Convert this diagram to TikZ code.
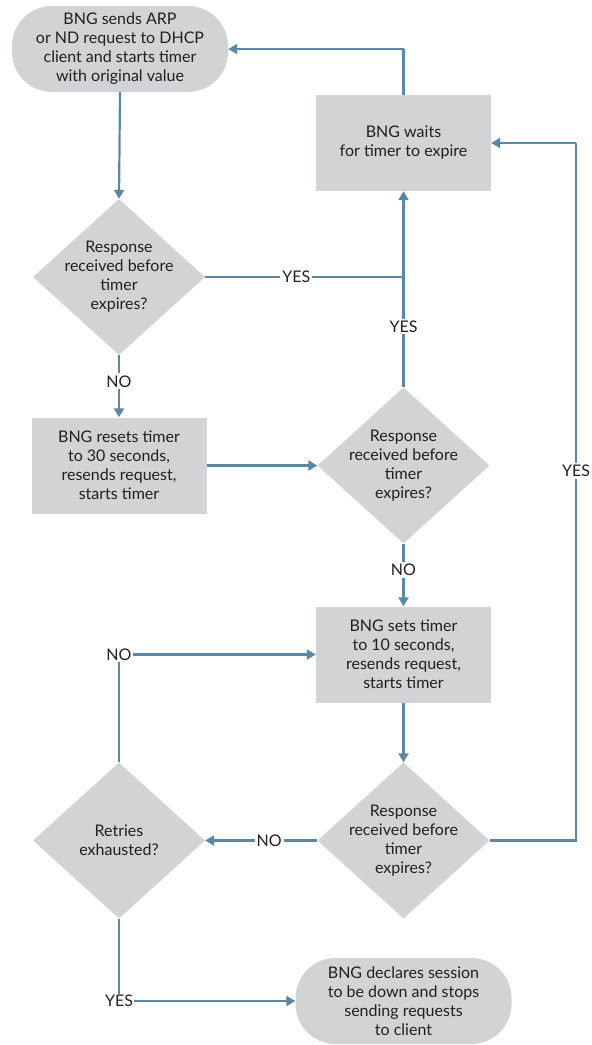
\documentclass[tikz,border=0pt]{standalone}
\usepackage{fontspec}
\setmainfont{Lato}
\usetikzlibrary{shapes.geometric,arrows.meta}
\definecolor{boxgray}{HTML}{D1D3D4}
\definecolor{linkblue}{HTML}{5A87A6}
\definecolor{txt}{HTML}{231F20}
\tikzset{
  base/.style={fill=boxgray,draw=none,text=txt,align=center,font=\fontsize{16}{19}\selectfont,inner sep=0pt},
  term/.style={base,rectangle,rounded corners=40pt,minimum width=216pt,minimum height=86pt},
  procbox/.style={base,rectangle,minimum width=175pt,minimum height=96pt},
  dia/.style={base,diamond,minimum width=172pt,minimum height=156pt},
  diatext/.style={text=txt,align=center,font=\fontsize{16}{19}\selectfont,inner sep=0pt},
  lbl/.style={text=txt,font=\fontsize{16}{18}\selectfont,fill=white,inner sep=2pt},
  cornerlbl/.style={text=txt,font=\fontsize{16}{18}\selectfont,inner sep=1pt},
  link/.style={draw=linkblue,line width=2.2pt},
  arr/.style={link,-{Triangle[length=9pt,width=10pt]}}
}
\begin{document}
\begin{tikzpicture}[x=1pt,y=-1pt]
\useasboundingbox (0,0) rectangle (592,1045);
% nodes
\node[term] (start) at (120,49) {BNG sends ARP\\or ND request to DHCP\\client and starts timer\\with original value};
\node[procbox] (wait) at (403.5,143) {BNG waits\\for timer to expire};
\node[dia] (d1) at (119,277) {};
\node[diatext] at (d1) {Response\\received before\\timer\\expires?};
\node[procbox] (reset) at (119,465.5) {BNG resets timer\\to 30 seconds,\\resends request,\\starts timer};
\node[dia] (d2) at (403.5,465.5) {};
\node[diatext] at (d2) {Response\\received before\\timer\\expires?};
\node[procbox] (sets) at (403.5,654.5) {BNG sets timer\\to 10 seconds,\\resends request,\\starts timer};
\node[dia] (d3) at (403.5,840.5) {};
\node[diatext] at (d3) {Response\\received before\\timer\\expires?};
\node[dia] (d4) at (119,840.5) {};
\node[diatext] at (d4) {Retries\\exhausted?};
\node[term] (end) at (403.5,1001) {BNG declares session\\to be down and stops\\sending requests\\to client};
% corner labels and bends
\node[cornerlbl] (no4) at (119,654.5) {NO};
\node[cornerlbl] (yes4) at (119,1001) {YES};
\coordinate (j1) at (403.5,277);
\coordinate (top) at (403.5,49);
\coordinate (r1) at (576,840.5);
\coordinate (r2) at (576,143);
% connectors
\draw[arr] (start.south) -- (d1.north);
\draw[link] (d1.east) -- node[lbl,pos=0.46] {YES} (j1);
\draw[arr] (d2.north) -- node[lbl,pos=0.31] {YES} (wait.south);
\draw[link] (wait.north) -- (top);
\draw[arr] (top) -- (start.east);
\draw[arr] (d1.south) -- node[lbl,pos=0.42] {NO} (reset.north);
\draw[arr] (reset.east) -- (d2.west);
\draw[arr] (d2.south) -- node[lbl,pos=0.42] {NO} (sets.north);
\draw[arr] (sets.south) -- (d3.north);
\draw[link] (d3.east) -- (r1) -- node[lbl,pos=0.53] {YES} (r2);
\draw[arr] (r2) -- (wait.east);
\draw[arr] (d3.west) -- node[lbl,pos=0.43] {NO} (d4.east);
\draw[link] (d4.north) -- (no4.south);
\draw[arr] (no4.east) -- (sets.west);
\draw[link] (d4.south) -- (yes4.north);
\draw[arr] (yes4.east) -- (end.west);
\end{tikzpicture}
\end{document}
